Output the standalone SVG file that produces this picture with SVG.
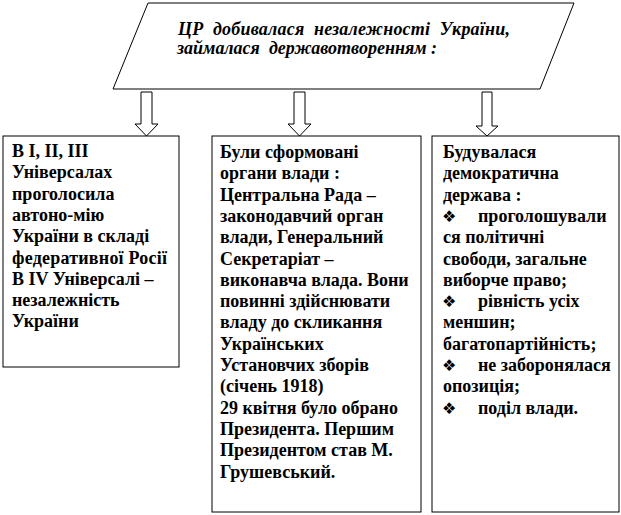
<svg xmlns="http://www.w3.org/2000/svg" width="621" height="515" viewBox="0 0 621 515">
<style>
.shape{fill:#fff;stroke:#000;stroke-width:1}
text{font-family:'Liberation Serif','Times New Roman',serif;font-weight:bold;font-size:18px;fill:#000}
.ti{font-style:italic;font-size:18px}
.b{font-family:'DejaVu Sans',sans-serif;font-weight:normal;font-size:16px}
</style>
<rect width="621" height="515" fill="#fff"/>
<g id="title">
<polygon class="shape" points="148,3 574,3 540,89 113,89"/>
<text class="ti" x="178" y="35" textLength="332" lengthAdjust="spacing" xml:space="preserve">ЦР  добивалася  незалежності  України,</text>
<text class="ti" x="177" y="54" textLength="260" lengthAdjust="spacing" xml:space="preserve">займалася  державотворенням :</text>
</g>
<g id="connectors">
<polygon class="shape" points="141,92 152,92 152,124 158,124 146.5,136 135,124 141,124"/>
<polygon class="shape" points="294,92 305,92 305,124 311,124 299.5,136 288,124 294,124"/>
<polygon class="shape" points="482,92 492,92 492,126 498,126 487,136 476,126 482,126"/>
</g>
<g id="box1">
<rect class="shape" x="3" y="136" width="176" height="231"/>
<text x="12" y="157">В І, ІІ, ІІІ</text>
<text x="12" y="178.3">Універсалах</text>
<text x="12" y="199.6">проголосила</text>
<text x="12" y="220.9">автоно-мію</text>
<text x="12" y="242.2">України в складі</text>
<text x="12" y="263.5" textLength="155" lengthAdjust="spacing">федеративної Росії</text>
<text x="12" y="284.8">В ІV Універсалі –</text>
<text x="12" y="306.1">незалежність</text>
<text x="12" y="327.4">України</text>
</g>
<g id="box2">
<rect class="shape" x="212" y="136" width="209" height="376"/>
<text x="220" y="158">Були сформовані</text>
<text x="220" y="179.3">органи влади :</text>
<text x="220" y="200.6">Центральна Рада –</text>
<text x="220" y="221.9">законодавчий орган</text>
<text x="220" y="243.2">влади, Генеральний</text>
<text x="220" y="264.5">Секретаріат –</text>
<text x="220" y="285.8">виконавча влада. Вони</text>
<text x="220" y="307.1">повинні здійснювати</text>
<text x="220" y="328.4">владу до скликання</text>
<text x="220" y="349.7">Українських</text>
<text x="220" y="371">Установчих зборів</text>
<text x="220" y="392.3">(січень 1918)</text>
<text x="220" y="413.6">29 квітня було обрано</text>
<text x="220" y="434.9">Президента. Першим</text>
<text x="220" y="456.2">Президентом став М.</text>
<text x="220" y="477.5">Грушевський.</text>
</g>
<g id="box3">
<rect class="shape" x="432" y="136" width="187" height="376"/>
<text x="443" y="158">Будувалася</text>
<text x="443" y="179.3">демократична</text>
<text x="443" y="200.6">держава :</text>
<text class="b" x="442" y="221.9">❖</text>
<text x="478" y="221.9">проголошували</text>
<text x="443" y="243.2">ся політичні</text>
<text x="443" y="264.5">свободи, загальне</text>
<text x="443" y="285.8">виборче право;</text>
<text class="b" x="442" y="307.1">❖</text>
<text x="478" y="307.1">рівність усіх</text>
<text x="443" y="328.4">меншин;</text>
<text x="443" y="349.7">багатопартійність;</text>
<text class="b" x="442" y="371">❖</text>
<text x="478" y="371">не заборонялася</text>
<text x="443" y="392.3">опозиція;</text>
<text class="b" x="442" y="413.6">❖</text>
<text x="478" y="413.6">поділ влади.</text>
</g>
</svg>
